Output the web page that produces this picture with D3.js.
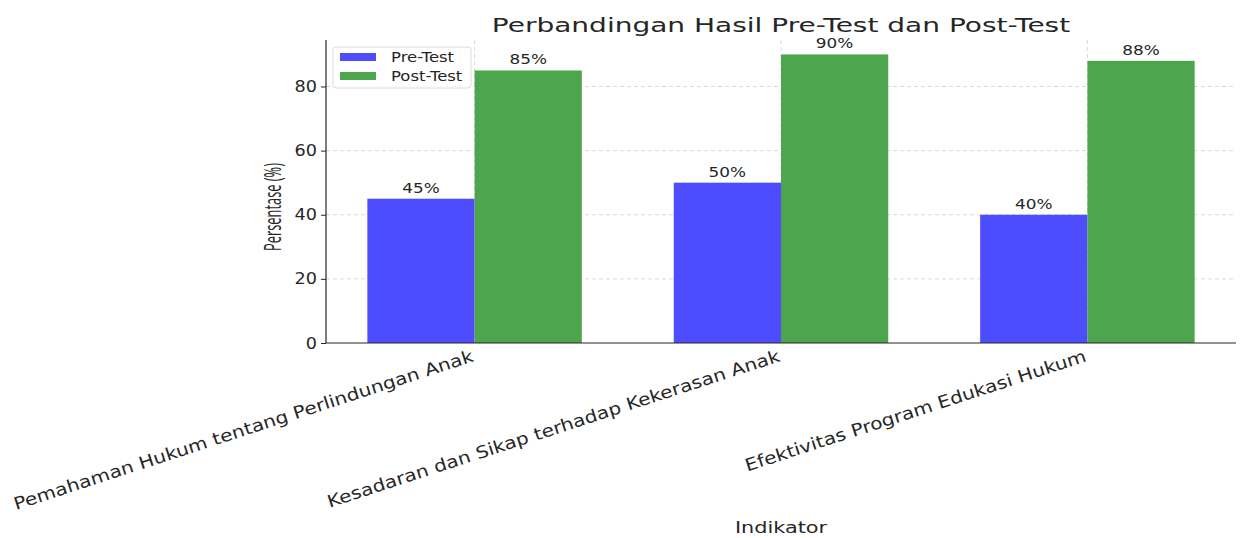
<!DOCTYPE html>
<html>
<head>
<meta charset="utf-8">
<script src="https://cdn.jsdelivr.net/npm/d3@7"></script>
<style>
  body { margin: 0; background: #fff; }
  text { font-family: "DejaVu Sans", sans-serif; fill: #262626; }
</style>
</head>
<body>
<div id="chart"></div>
<script>
const categories = [
    "Pemahaman Hukum tentang Perlindungan Anak",
    "Kesadaran dan Sikap terhadap Kekerasan Anak",
    "Efektivitas Program Edukasi Hukum"
];
const preTest = [45, 50, 40];
const postTest = [85, 90, 88];
const yTicks = [0, 20, 40, 60, 80];
const seriesNames = ["Pre-Test", "Post-Test"];

const W = 1240, H = 538;
const margin = { top: 40, right: 4, bottom: 195, left: 326 };
const width = W - margin.left - margin.right;
const height = H - margin.top - margin.bottom;

// the reference image is stretched sideways, so text gets widened to match
function stretch(sel, factor) {
    sel.each(function () {
        const len = this.getComputedTextLength();
        d3.select(this)
            .attr("textLength", len * factor)
            .attr("lengthAdjust", "spacingAndGlyphs");
    });
}

const svg = d3.select("#chart")
    .append("svg")
    .attr("width", W)
    .attr("height", H);

const g = svg.append("g")
    .attr("transform", `translate(${margin.left},${margin.top})`);

const barW = 0.35;
const n = categories.length;
// numeric x like matplotlib, with 5% margins
const lo = -barW, hi = (n - 1) + barW, pad = (hi - lo) * 0.05;
const x = d3.scaleLinear().domain([lo - pad, hi + pad]).range([0, width]);
const y = d3.scaleLinear().domain([0, 94.5]).range([height, 0]);

const blue = "#4d4dff", green = "#4da64d";

// grid
g.append("g").selectAll("line")
    .data(yTicks.slice(1))
    .enter().append("line")
    .attr("x1", 0).attr("x2", width)
    .attr("y1", d => y(d)).attr("y2", d => y(d))
    .attr("stroke", "#d9d9d9").attr("stroke-dasharray", "4,3");

g.append("g").selectAll("line")
    .data(d3.range(n))
    .enter().append("line")
    .attr("x1", d => x(d)).attr("x2", d => x(d))
    .attr("y1", 0).attr("y2", height)
    .attr("stroke", "#d9d9d9").attr("stroke-dasharray", "4,3");

// bars
const series = [preTest, postTest];
const colors = [blue, green];
series.forEach((vals, s) => {
    const off = s === 0 ? -barW : 0;
    g.append("g").selectAll("rect")
        .data(vals)
        .enter().append("rect")
        .attr("x", (d, i) => x(i + off))
        .attr("width", x(barW) - x(0))
        .attr("y", d => y(d))
        .attr("height", d => height - y(d))
        .attr("fill", colors[s]);

    g.append("g").selectAll("text")
        .data(vals)
        .enter().append("text")
        .attr("x", (d, i) => x(i + off + barW / 2))
        .attr("y", d => y(d) - 6)
        .attr("text-anchor", "middle")
        .style("font-size", "13.5px")
        .text(d => d + "%")
        .call(stretch, 1.25);
});

// axes
const yAxis = g.append("g")
    .call(d3.axisLeft(y).tickValues(yTicks).tickSize(5).tickPadding(4));
yAxis.select(".domain").remove();
yAxis.selectAll("text").style("font-size", "16px").style("fill", "#262626")
    .call(stretch, 1.1);
yAxis.selectAll("line").attr("stroke", "#262626");

g.append("line")
    .attr("x1", 0).attr("x2", 0).attr("y1", 0).attr("y2", height)
    .attr("stroke", "#262626").attr("stroke-width", 1.2);
g.append("line")
    .attr("x1", 0).attr("x2", width).attr("y1", height).attr("y2", height)
    .attr("stroke", "#262626").attr("stroke-width", 1.2);

// x tick labels, rotated
g.append("g").selectAll("text")
    .data(categories)
    .enter().append("text")
    .attr("transform", (d, i) => `translate(${x(i)},${height + 18}) rotate(-18)`)
    .attr("text-anchor", "end")
    .style("font-size", "17px")
    .text(d => d)
    .call(stretch, 1.18);

// labels
svg.append("text")
    .attr("x", margin.left + width / 2)
    .attr("y", 32)
    .attr("text-anchor", "middle")
    .style("font-size", "20px")
    .text("Perbandingan Hasil Pre-Test dan Post-Test")
    .call(stretch, 1.4);

svg.append("text")
    .attr("x", margin.left + width / 2)
    .attr("y", 533)
    .attr("text-anchor", "middle")
    .style("font-size", "16px")
    .text("Indikator")
    .call(stretch, 1.3);

svg.append("text")
    .attr("transform", "translate(281,207) rotate(-90)")
    .attr("text-anchor", "middle")
    .style("font-size", "23px")
    .style("font-family", "'Open Sans', sans-serif")
    .text("Persentase (%)")
    .attr("textLength", 88)
    .attr("lengthAdjust", "spacingAndGlyphs");

// legend
const legend = svg.append("g").attr("transform", "translate(333,47)");
legend.append("rect")
    .attr("width", 138).attr("height", 41).attr("rx", 3)
    .attr("fill", "#fff").attr("fill-opacity", 0.8)
    .attr("stroke", "#dcdcdc");
seriesNames.forEach((name, i) => {
    legend.append("rect")
        .attr("x", 7).attr("y", 6 + i * 19)
        .attr("width", 36).attr("height", 8)
        .attr("fill", colors[i]);
    legend.append("text")
        .attr("x", 58).attr("y", 10 + i * 19)
        .attr("dy", "0.35em")
        .style("font-size", "13.5px")
        .text(name)
        .call(stretch, 1.22);
});
</script>
</body>
</html>
